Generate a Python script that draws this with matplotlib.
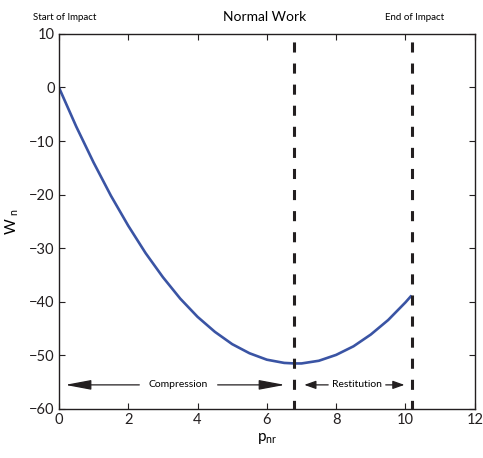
import matplotlib
matplotlib.use("Agg")
import matplotlib.pyplot as plt

plt.rcParams['font.family'] = ['Lato', 'DejaVu Sans']

# normal work vs normal impulse
p_nr = [0, 0.5, 1, 1.5, 2, 2.5, 3, 3.5, 4, 4.5, 5, 5.5, 6, 6.5, 6.8,
        7, 7.5, 8, 8.5, 9, 9.5, 10, 10.15]
w_n = [0, -7.3, -14.0, -20.2, -25.8, -30.9, -35.4, -39.4, -42.8, -45.6,
       -47.9, -49.6, -50.8, -51.4, -51.5, -51.5, -51.0, -49.9, -48.3,
       -46.1, -43.4, -40.1, -39.0]

p_compress = 6.78   # end of compression
p_end = 10.18       # end of impact

fig = plt.figure(figsize=(4.83, 4.58), dpi=100)
ax = fig.add_axes([0.122, 0.107, 0.861, 0.819])

ax.plot(p_nr, w_n, color='#3a54a4', lw=1.9)
for xv in (p_compress, p_end):
    ax.plot([xv, xv], [10, -60], color='#231f20', lw=2.2,
            ls=(4.3, (3.3, 3.6)))

ax.set_xlim(0, 12)
ax.set_ylim(-60, 10)
ax.set_xticks(range(0, 13, 2))
ax.set_yticks(range(-60, 11, 10))
ax.set_yticklabels([str(v).replace('-', '\u2212') for v in range(-60, 11, 10)])
ax.tick_params(direction='in', top=True, right=True, length=4, width=0.8,
               labelsize=10.5, pad=3, colors='#231f20')
for s in ax.spines.values():
    s.set_linewidth(1.0)
    s.set_color('#231f20')

ax.set_xlabel('$\\mathregular{p_{nr}}$', fontsize=11, labelpad=3)
ax.set_ylabel('$\\mathregular{W_{\\ n}}$', fontsize=11, labelpad=6)

fig.text(0.068, 0.962, 'Start of Impact', fontsize=7, ha='left', va='center')
fig.text(0.548, 0.962, 'Normal Work', fontsize=10, ha='center', va='center')
fig.text(0.858, 0.962, 'End of Impact', fontsize=7, ha='center', va='center')

# phase arrows
y_arr = -55.5
big = dict(arrowstyle='-|>,head_length=1.6,head_width=0.3', color='#231f20', lw=0.9)
small = dict(arrowstyle='-|>,head_length=0.7,head_width=0.25', color='#231f20', lw=0.9)
ax.annotate('', xy=(0.1, y_arr), xytext=(2.4, y_arr), arrowprops=big)
ax.annotate('', xy=(6.6, y_arr), xytext=(4.5, y_arr), arrowprops=big)
ax.text(3.45, y_arr, 'Compression', fontsize=7.5, ha='center', va='center')
ax.annotate('', xy=(7.0, y_arr), xytext=(7.85, y_arr), arrowprops=small)
ax.annotate('', xy=(10.05, y_arr), xytext=(9.35, y_arr), arrowprops=small)
ax.text(8.6, y_arr, 'Restitution', fontsize=7.5, ha='center', va='center')

fig.savefig('out.png', dpi=100)
